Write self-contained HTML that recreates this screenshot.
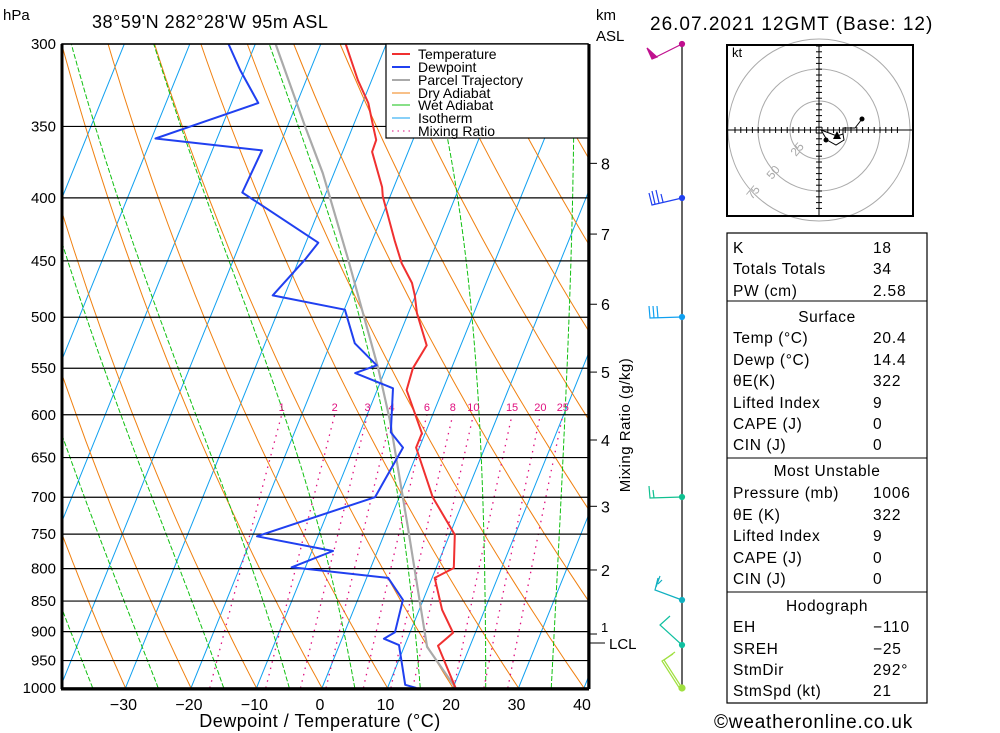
<!DOCTYPE html>
<html><head><meta charset="utf-8"><style>
body{margin:0;background:#fff;}
svg{display:block;font-family:"Liberation Sans",sans-serif;}
</style></head><body>
<svg id="chart" width="1000" height="733" viewBox="0 0 1000 733" xmlns="http://www.w3.org/2000/svg">
<defs><clipPath id="plotclip"><rect x="62" y="44" width="526" height="644"/></clipPath></defs>
<rect x="0" y="0" width="1000" height="733" fill="#fff"/>
<g id="bg" clip-path="url(#plotclip)"></g>
<g id="isobars"></g>
<g id="profiles" clip-path="url(#plotclip)"></g>
<rect x="62" y="44" width="526" height="644" fill="none" stroke="#000" stroke-width="1.5"/>
<line x1="62" y1="44" x2="62" y2="689" stroke="#000" stroke-width="3"/>
<line x1="61" y1="689" x2="589" y2="689" stroke="#000" stroke-width="3"/>
<line x1="589" y1="44" x2="589" y2="689" stroke="#000" stroke-width="3"/>
<g id="labels" font-size="15"></g>
<text x="3" y="20" font-size="15">hPa</text>
<text x="92" y="28" font-size="18" letter-spacing="0.5">38°59'N 282°28'W 95m ASL</text>
<text x="596" y="20" font-size="15">km</text>
<text x="596" y="41" font-size="15">ASL</text>
<text x="650" y="30" font-size="19" letter-spacing="1">26.07.2021 12GMT (Base: 12)</text>
<text x="320" y="727" font-size="18" text-anchor="middle" letter-spacing="0.5">Dewpoint / Temperature (°C)</text>
<text transform="translate(630,425) rotate(-90)" font-size="15" text-anchor="middle" letter-spacing="0.5">Mixing Ratio (g/kg)</text>
<text x="714" y="728" font-size="19" letter-spacing="0.8">©weatheronline.co.uk</text>
<!-- legend -->
<g font-size="14">
<rect x="386" y="44" width="202" height="94" fill="#fff" stroke="#000" stroke-width="1.2"/>
<g><line x1="392" y1="54" x2="410" y2="54" stroke="#f03030" stroke-width="2"/><text x="418" y="59">Temperature</text></g>
<g><line x1="392" y1="67" x2="410" y2="67" stroke="#2040f0" stroke-width="2"/><text x="418" y="72">Dewpoint</text></g>
<g><line x1="392" y1="80" x2="410" y2="80" stroke="#aaa" stroke-width="2"/><text x="418" y="85">Parcel Trajectory</text></g>
<g><line x1="392" y1="93" x2="410" y2="93" stroke="#f08010" stroke-width="1"/><text x="418" y="98">Dry Adiabat</text></g>
<g><line x1="392" y1="105" x2="410" y2="105" stroke="#10c010" stroke-width="1"/><text x="418" y="110">Wet Adiabat</text></g>
<g><line x1="392" y1="118" x2="410" y2="118" stroke="#10a0f0" stroke-width="1"/><text x="418" y="123">Isotherm</text></g>
<g><line x1="392" y1="131" x2="410" y2="131" stroke="#e0107f" stroke-width="1" stroke-dasharray="1.5,4"/><text x="418" y="136">Mixing Ratio</text></g>
</g>
<!-- wind barbs -->
<g fill="none" stroke-width="1.2">
<line x1="682" y1="44" x2="682" y2="688" stroke="#000" stroke-width="1.2"/>
<g stroke="#c0108f"><line x1="682" y1="44" x2="652" y2="59"/><polygon points="647,48 652,59 657,57" fill="#c0108f"/><circle cx="682" cy="44" r="2.5" fill="#c0108f"/></g>
<g stroke="#2040f0"><polyline points="682,198 652,205 649,193"/><line x1="655" y1="204" x2="652" y2="191"/><line x1="659" y1="203" x2="656" y2="190"/><line x1="663" y1="202" x2="661" y2="194"/><circle cx="682" cy="198" r="2.5" fill="#2040f0"/></g>
<g stroke="#10a0f0"><polyline points="682,317 650,318 649,306"/><line x1="654" y1="318" x2="653" y2="306"/><line x1="658" y1="318" x2="657" y2="306"/><circle cx="682" cy="317" r="2.5" fill="#10a0f0"/></g>
<g stroke="#10c090"><polyline points="682,497 650,498 649,486"/><line x1="654" y1="498" x2="653" y2="490"/><circle cx="682" cy="497" r="2.5" fill="#10c090"/></g>
<g stroke="#10b0c0"><polyline points="682,600 655,590 658,578"/><line x1="656" y1="587" x2="660" y2="576"/><line x1="658" y1="584" x2="662" y2="580"/><circle cx="682" cy="600" r="2.5" fill="#10b0c0"/></g>
<g stroke="#10c0a0"><polyline points="682,645 660,625 670,616"/><circle cx="682" cy="645" r="2.5" fill="#10c0a0"/></g>
<g stroke="#a0e040"><polyline points="682,688 664,660 675,652"/><polyline points="680,689 662,661 673,654"/><circle cx="682" cy="688" r="3" fill="#a0e040"/></g>
</g>
<!-- hodograph -->
<g>
<rect x="727" y="45" width="186" height="171" fill="#fff" stroke="#000" stroke-width="2"/>
<g fill="none" stroke="#aaa" stroke-width="1"><circle cx="819" cy="130" r="29"/><circle cx="819" cy="130" r="61"/><circle cx="819" cy="130" r="91"/></g>
<rect x="727" y="45" width="186" height="171" fill="none" stroke="#000" stroke-width="2"/>
<g id="hodoaxes" stroke="#000" stroke-width="1"></g>
<text x="732" y="57" font-size="13">kt</text>
<g font-size="12" fill="#aaa"><text transform="translate(796,157) rotate(-50)">25</text><text transform="translate(772,180) rotate(-50)">50</text><text transform="translate(752,200) rotate(-50)">75</text></g>
<polyline points="862,119 855,128 843,128 843,134 844,140 836,145 827,140 821,130 837,136 843,134" fill="none" stroke="#000" stroke-width="1"/>
<polygon points="837,131 833,139 841,139" fill="#000"/>
<circle cx="862" cy="119" r="2.5" fill="#000"/><circle cx="826" cy="140" r="2.5" fill="#000"/>
</g>
<!-- table -->
<g font-size="15.5">
<rect x="727" y="233" width="200" height="470" fill="none" stroke="#000" stroke-width="1.2"/>
<line x1="727" y1="301" x2="927" y2="301" stroke="#000"/>
<line x1="727" y1="458" x2="927" y2="458" stroke="#000"/>
<line x1="727" y1="592" x2="927" y2="592" stroke="#000"/>
<g id="rows"></g>
</g>
<script>
// ---------- data ----------
const tempP = [300,321,335,350,359,367,392,399,433,452,469,480,496,527,550,573,621,638,700,751,799,814,864,902,924,1000];
const tempT = [-36.2,-32.1,-29.1,-26.9,-25.6,-25.5,-21.8,-21.1,-16.6,-14.1,-11.3,-10.1,-8.7,-5.2,-5.9,-5.5,-0.5,-0.5,5.1,10.8,12.7,10.4,13.5,16.6,15.1,20.4];
const dewP = [300,315,335,358,366,396,435,449,480,493,525,547,555,571,620,638,700,753,774,798,814,848,901,912,923,994,1000];
const dewT = [-54.1,-50.7,-45.9,-59.4,-42.4,-42.8,-28.1,-29.1,-31.8,-19.9,-16.3,-11.6,-14.4,-7.7,-5.3,-2.5,-3.7,-19.3,-6.8,-12.1,3.3,6.9,7.7,6.4,9.1,12.5,14.4];
const parcelP = [300,350,382,448,550,606,744,853,926,1000];
const parcelT = [-46.9,-37.3,-31.7,-22.6,-11.2,-6.2,3.4,9.7,13.5,20.4];
const pressureTicks = [300,350,400,450,500,550,600,650,700,750,800,850,900,950,1000];
const tempTicks = [-30,-20,-10,0,10,20,30,40];
const kmTicks = [1,2,3,4,5,6,7,8];
const kmP = [904,802,712,629,554,488,428,375];
const mixRatios = [1,2,3,4,6,8,10,15,20,25];
const mixLabels = ["1","2","3","4","6","8","10","15","20","25"];
const tableLabels = ["K","Totals Totals","PW (cm)","Surface","Temp (°C)","Dewp (°C)","θE(K)","Lifted Index","CAPE (J)","CIN (J)","Most Unstable","Pressure (mb)","θE (K)","Lifted Index","CAPE (J)","CIN (J)","Hodograph","EH","SREH","StmDir","StmSpd (kt)"];
const tableValues = ["18","34","2.58","","20.4","14.4","322","9","0","0","","1006","322","9","0","0","","−110","−25","292°","21"];

// ---------- axes ----------
const Y = p => 688 - 534.9*Math.log(1000/p);
const X = (T,p) => 322 + 6.55*T + 0.405*(688 - Y(p));
const NS = "http://www.w3.org/2000/svg";
function mk(tag, attrs, parent){const e=document.createElementNS(NS,tag);for(const k in attrs)e.setAttribute(k,attrs[k]);parent.appendChild(e);return e;}
const bg = document.getElementById('bg');
function pathFrom(pts){return pts.map((q,i)=>(i?'L':'M')+q[0].toFixed(1)+' '+q[1].toFixed(1)).join(' ');}
const pGrid=[];for(let p=1000;p>=290;p-=10)pGrid.push(p);

// isotherms
for(let T=-120;T<=40;T+=10){
  const e=mk('line',{x1:X(T,1000),y1:Y(1000),x2:X(T,280),y2:Y(280),stroke:'#10a0f0','stroke-width':1},bg);
  
  
}
// dry adiabats
for(let th=213.15;th<=493.15;th+=10){
  const pts=pGrid.map(p=>[X(th*Math.pow(p/1000,0.286)-273.15,p),Y(p)]);
  const e=mk('path',{d:pathFrom(pts),fill:'none',stroke:'#f08010','stroke-width':1},bg);
  
  
}
// wet adiabats
function es(Tc){return 6.112*Math.exp(17.67*Tc/(Tc+243.5));}
for(let T0=-75;T0<=35;T0+=10){
  let T=T0+273.15;const pts=[];
  for(let p=1000;p>=290;p-=2){
    pts.push([X(T-273.15,p),Y(p)]);
    const e=es(T-273.15),rs=0.622*e/(p-e);
    const dTdp=(287*T+2.5e6*rs)/(p*(1004+2.5e6*2.5e6*rs*0.622/(287*T*T)));
    T-=dTdp*2;
  }
  const el=mk('path',{d:pathFrom(pts),fill:'none',stroke:'#10c010','stroke-width':1,'stroke-dasharray':'5,2'},bg);
  
  
}
// mixing ratio
mixRatios.forEach((w,i)=>{
  const pts=[];
  for(let p=1000;p>=600;p-=10){const e=w*p/(622+w),l=Math.log(e/6.112);pts.push([X(243.5*l/(17.67-l),p),Y(p)]);}
  const el=mk('path',{d:pathFrom(pts),fill:'none',stroke:'#e0107f','stroke-width':1.3,'stroke-dasharray':'1.5,5'},bg);
  
  
  const l=Math.log((w*600/(622+w))/6.112);
  const t=mk('text',{x:X(243.5*l/(17.67-l),600),y:Y(600)-4,'font-size':11,fill:'#e0107f','text-anchor':'middle'},bg);
  t.textContent=mixLabels[i];
  
  
});
// isobars + labels
const iso=document.getElementById('isobars'),lab=document.getElementById('labels');
pressureTicks.forEach(p=>{
  const l=mk('line',{x1:62,y1:Y(p),x2:588,y2:Y(p),stroke:'#000','stroke-width':1.2},iso);
  
  
  const t=mk('text',{x:56,y:Y(p)+5,'text-anchor':'end'},lab);
  t.textContent=p;
  
  
});
tempTicks.forEach(T=>{
  const t=mk('text',{x:X(T,1000)-2,y:710,'text-anchor':'middle','font-size':16},lab);
  t.textContent=T<0?'−'+(-T):T;
  
  
});
kmTicks.forEach((k,i)=>{
  const y=Y(kmP[i]);
  mk('line',{x1:589,y1:y,x2:597,y2:y,stroke:'#000','stroke-width':1},lab);
  const t=mk('text',{x:601,y:y+(k===1?-2:6),'font-size':k===1?13:16},lab);
  t.textContent=k;
  
  
});
mk('line',{x1:589,y1:643,x2:605,y2:643,stroke:'#000'},lab);
const lcl=mk('text',{x:609,y:649,'font-size':15},lab);lcl.textContent='LCL';


// profiles
const prof=document.getElementById('profiles');
function series(P,T,col,w,name){
  const el=mk('path',{d:pathFrom(P.map((p,i)=>[X(T[i],p),Y(p)])),fill:'none',stroke:col,'stroke-width':w,'stroke-linejoin':'round'},prof);
  
  
}
series(parcelP,parcelT,'#aaa',2.2,'parcel-trajectory-line');
series(dewP,dewT,'#2040f0',2,'dewpoint-line');
series(tempP,tempT,'#f03030',2,'temperature-line');
// hodograph ticks
const ha=document.getElementById('hodoaxes');
mk('line',{x1:727,y1:130,x2:913,y2:130},ha);mk('line',{x1:819,y1:45,x2:819,y2:216},ha);
for(let d=-84;d<=84;d+=5.8){if(Math.abs(d)<1)continue;mk('line',{x1:819+d,y1:127,x2:819+d,y2:133},ha);mk('line',{x1:816,y1:130+d,x2:822,y2:130+d},ha);}
// table rows
const rows=document.getElementById('rows');
const ys=[253,274,296,322,343,365,386,408,429,450,476,498,520,541,563,584,611,632,654,675,696];
tableLabels.forEach((s,i)=>{
  const head=tableValues[i]==='';
  const t=mk('text',{x:head?827:733,y:ys[i],'text-anchor':head?'middle':'start','letter-spacing':0.6},rows);
  t.textContent=s;
  
  
  if(!head){const v=mk('text',{x:873,y:ys[i],'letter-spacing':0.8},rows);v.textContent=tableValues[i];
  
  }
});
</script>
</svg>
</body></html>
